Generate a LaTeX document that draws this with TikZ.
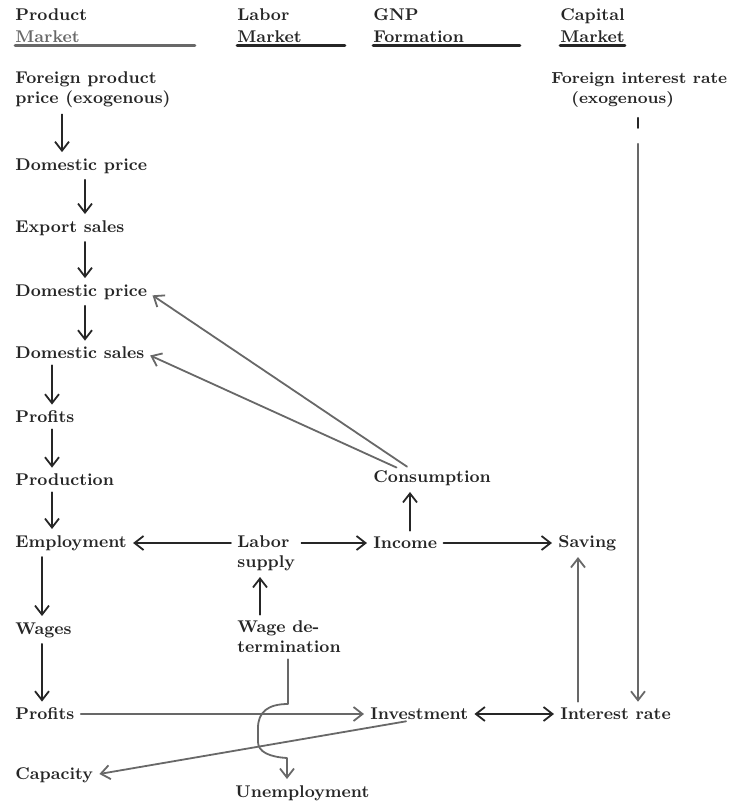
\documentclass[tikz,border=0pt]{standalone}
\usetikzlibrary{arrows.meta}
\definecolor{ink}{HTML}{262626}
\definecolor{pencil}{HTML}{686868}
\tikzset{
  lbl/.style={anchor=west, inner sep=0pt, text=ink, align=left,
    font=\fontsize{8.5}{10}\selectfont\bfseries},
  arr/.style={-{Straight Barb[length=4.5pt,width=7pt]}, line width=0.9pt, draw=ink,
    shorten <=3pt, shorten >=3pt},
  garr/.style={arr, draw=pencil},
  uline/.style={line width=1.3pt, draw=ink},
}
\begin{document}
\begin{tikzpicture}[x=0.5pt,y=-0.5pt,line cap=round,line join=round]
	\useasboundingbox (0,0) rectangle (733,804);
	%headers
	\node[lbl] (hprod) at (15,26) {Product\\[1pt]\textcolor{pencil}{Market}};
	\node[lbl] (hlab) at (237,26) {Labor\\[1pt]Market};
	\node[lbl] (hgnp) at (373,26) {GNP\\[1pt]Formation};
	\node[lbl] (hcap) at (560,26) {Capital\\[1pt]Market};
	\draw[uline,draw=pencil] ([yshift=-1pt]hprod.south west) -- ++(180,0);
	\draw[uline] ([yshift=-1pt]hlab.south west) -- ++(108,0);
	\draw[uline] ([yshift=-1pt]hgnp.south west) -- ++(147,0);
	\draw[uline] ([yshift=-1pt]hcap.south west) -- ([yshift=-1pt]hcap.south east);
	%product market
	\node[lbl] (fpp) at (15,90) {Foreign product\\price (exogenous)};
	\node[lbl] (dpa) at (15,166) {Domestic price};
	\node[lbl] (exs) at (15,228) {Export sales};
	\node[lbl] (dpb) at (15,292) {Domestic price};
	\node[lbl] (dms) at (15,353) {Domestic sales};
	\node[lbl] (pfa) at (15,417) {Profits};
	\node[lbl] (prd) at (15,480) {Production};
	\node[lbl] (emp) at (15,543) {Employment};
	\node[lbl] (wag) at (15,630) {Wages};
	\node[lbl] (pfb) at (15,714) {Profits};
	\node[lbl] (cap) at (15,775) {Capacity};
	\foreach \a/\b/\x in {fpp/dpa/62,dpa/exs/85,exs/dpb/85,dpb/dms/85,dms/pfa/52,
	  pfa/prd/52,prd/emp/52,emp/wag/42,wag/pfb/42}
	\draw[arr] (\a.south -| \x,0) -- (\b.north -| \x,0);
	%labor market
	\node[lbl] (lsu) at (237,553) {Labor\\supply};
	\node[lbl] (wdt) at (237,637) {Wage de-\\termination};
	\node[lbl] (une) at (235,793) {Unemployment};
	%GNP formation
	\node[lbl] (con) at (373,478) {Consumption};
	\node[lbl] (inc) at (373,543) {Income};
	\node[lbl] (inv) at (370,714) {Investment};
	%capital market
	\node[lbl] (sav) at (558,543) {Saving};
	\node[lbl] (irt) at (560,714) {Interest rate};
	\node[lbl,font=\fontsize{8}{10}\selectfont\bfseries] (fir) at (551,90)
	  {Foreign interest rate\\\hspace*{10pt}(exogenous)};
	%links
	\draw[arr] (lsu.west |- emp.east) -- (emp.east);
	\draw[arr] (lsu.east |- inc.west) -- (inc.west);
	\draw[arr] (inc.east) -- (sav.west);
	\draw[arr] (inc.north -| 410,0) -- (con.south -| 410,0);
	\draw[arr] (wdt.north -| 260,0) -- (lsu.south -| 260,0);
	\draw[garr] (con.north -| 412,0) -- (dpb.east);
	\draw[garr] (con.north -| 402,0) -- (dms.east);
	\draw[garr] (irt.north -| 578,0) -- (sav.south -| 578,0);
	\draw[line width=0.9pt,draw=ink,shorten <=5pt] (fir.south -| 638,0) -- ++(0,20);
	\draw[garr,shorten <=18pt] (fir.south -| 638,0) -- (irt.north -| 638,0);
	\draw[garr] (pfb.east) -- (inv.west);
	\draw[arr,{Straight Barb[length=4.5pt,width=7pt]}-{Straight Barb[length=4.5pt,width=7pt]}] (inv.east) -- (irt.west);
	\draw[garr] (inv.south -| 412,0) -- (cap.east);
	%hook over the two lines
	\draw[garr] (wdt.south -| 288,0) -- (288,704) .. controls (268,704) and (258,712) .. (258,728)
	  -- (258,742) .. controls (258,752) and (270,757) .. (287,758) -- (une.north -| 287,0);
\end{tikzpicture}
\end{document}
